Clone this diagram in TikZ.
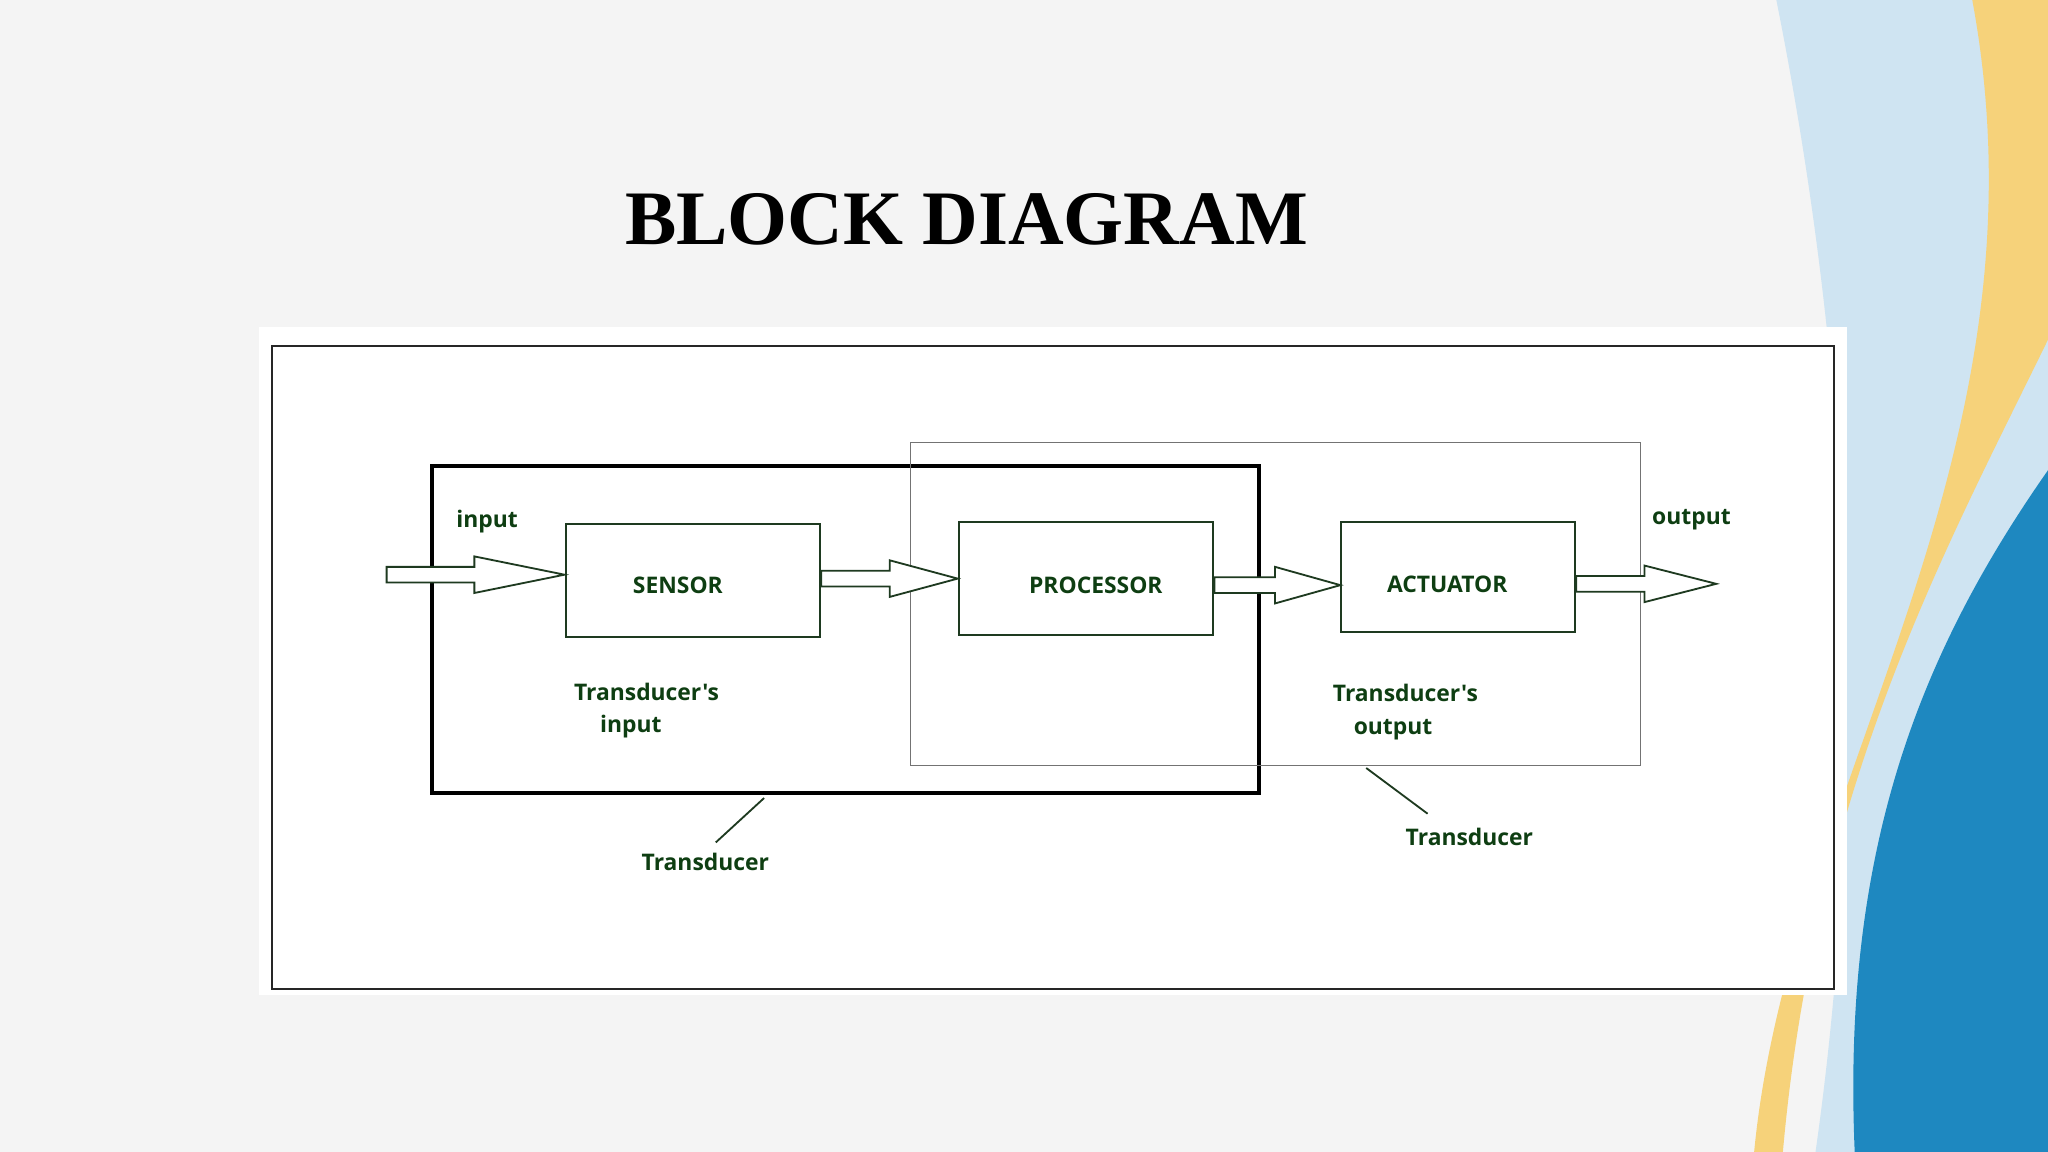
\documentclass[tikz,border=0pt]{standalone}
\usepackage{fontspec}
\setmainfont{Liberation Serif}
\newfontfamily\lab{Open Sans}
\usetikzlibrary{calc}
\definecolor{bg}{HTML}{F4F4F4}
\definecolor{dkgreen}{HTML}{0E3E12}
\definecolor{boxline}{HTML}{1E3A20}
\definecolor{wavey}{HTML}{F6D27A}
\definecolor{waveb}{HTML}{1E88C0}
\definecolor{wavelb}{HTML}{CFE4F2}
\tikzset{
  blk/.style={draw=boxline, line width=1.6pt, minimum width=#1, minimum height=87pt, inner sep=0pt},
  lbl/.style={text=dkgreen, font=\lab\bfseries\fontsize{17.5}{21}\selectfont, inner sep=0pt},
  flow/.style={draw=boxline, line width=1.4pt, fill=white}
}
% hollow arrow between two points
\newcommand\harrow[3]{\draw[flow] let \p1=(#1), \p2=(#2) in
  (\x1,\y1+6pt) -- (\x2-#3,\y1+6pt) -- (\x2-#3,\y1+14pt) -- (\x2,\y1) --
  (\x2-#3,\y1-14pt) -- (\x2-#3,\y1-6pt) -- (\x1,\y1-6pt) -- cycle;}
\begin{document}
\begin{tikzpicture}[x=1pt,y=-1pt]
  \useasboundingbox (0,0) rectangle (1568,882);
  \fill[bg] (0,0) rectangle (1568,882);
  % decoration on the right
  \fill[wavelb] (1360,0) -- (1568,0) -- (1568,882) -- (1390,882) .. controls (1430,600) and (1420,300) .. (1360,0);
  \fill[wavey] (1510,0) -- (1568,0) -- (1568,260) .. controls (1490,420) and (1390,600) .. (1365,882) -- (1343,882) .. controls (1370,600) and (1575,350) .. (1510,0);
  \fill[waveb] (1568,360) .. controls (1470,500) and (1410,650) .. (1420,882) -- (1568,882) -- cycle;
  % title
  \node (title) at (740,168) {\bfseries\fontsize{59}{64}\selectfont BLOCK DIAGRAM};
  % panel
  \fill[white] (198,250) rectangle (1414,762);
  \draw[line width=1.6pt, black!85] (208,265) rectangle (1404,757);
  \draw[line width=3pt, black] (331,357) rectangle (964,607);
  \draw[line width=1pt, black!55] (697,339) rectangle (1256,586);
  % blocks
  \node[blk=195pt] (sensor) at (530.5,444.5) {};
  \node[lbl] at (519,448) {SENSOR};
  \node[blk=195pt, minimum height=86pt] (proc) at (831.5,443) {};
  \node[lbl] at (839,448) {PROCESSOR};
  \node[blk=179pt, minimum height=84pt] (act) at (1116.5,442) {};
  \node[lbl] at (1108,447) {ACTUATOR};
  \coordinate (in) at (296,440);
  \coordinate (out) at (1314,447);
  \harrow{in}{sensor.west |- in}{69pt}
  \harrow{sensor.east |- 0,443}{proc.west |- 0,443}{52pt}
  \harrow{proc.east |- 0,448}{act.west |- 0,448}{50pt}
  \harrow{act.east |- out}{out}{55pt}
  % labels
  \node[lbl] (inl) at (373,399) {input};
  \node[lbl] (outl) at (1295,398) {output};
  \node[lbl, align=left] (tin) at (495,544) {Transducer's\\[4pt]\hspace*{20pt}input};
  \node[lbl, align=left] (tout) at (1076,545) {Transducer's\\[4pt]\hspace*{16pt}output};
  \node[lbl] (t1) at (540,660) {Transducer};
  \node[lbl] (t2) at (1125,641) {Transducer};
  \coordinate (p1) at (585,611);
  \coordinate (p2) at (1046,588);
  \draw[line width=1.4pt, boxline] (548,645) -- (p1);
  \draw[line width=1.4pt, boxline] (p2) -- (1093,623);
\end{tikzpicture}
\end{document}
